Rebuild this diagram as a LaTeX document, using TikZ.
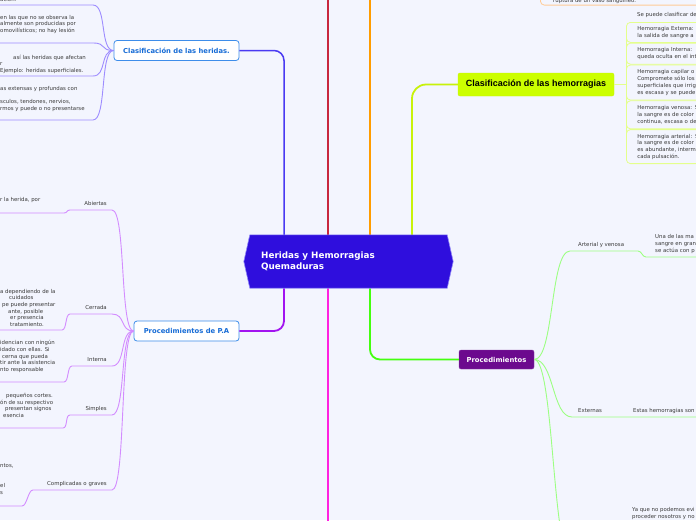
\documentclass[tikz,border=0pt]{standalone}
\usepackage{fontspec}
\setmainfont{DejaVu Sans}
\newfontfamily\arialfont{Liberation Sans}
\usetikzlibrary{positioning}
\definecolor{bg}{HTML}{F3F5FE}
\definecolor{ink}{HTML}{3A3A3A}
\definecolor{corefill}{HTML}{2F0EDD}
\definecolor{cblue}{HTML}{4A3AF2}
\definecolor{cred}{HTML}{C8283F}
\definecolor{corange}{HTML}{FF9C00}
\definecolor{clime}{HTML}{C8F20A}
\definecolor{cpurple}{HTML}{A214F0}
\definecolor{cmag}{HTML}{FF22E0}
\definecolor{cgreen}{HTML}{44FF10}
\definecolor{lilac}{HTML}{9D8CFF}
\definecolor{pinkish}{HTML}{D38CFF}
\definecolor{mint}{HTML}{9CFF82}
\definecolor{pale}{HTML}{E4FF8C}
\definecolor{peach}{HTML}{FFCB96}
\definecolor{topicblue}{HTML}{3D8DEA}
\definecolor{topictext}{HTML}{176CD6}
\definecolor{hemfill}{HTML}{CCFF00}
\definecolor{procfill}{HTML}{6C0A8E}

\begin{document}
\begin{tikzpicture}[x=1pt,y=-1pt,
    txt/.style={inner sep=0pt, align=left, anchor=base west, text=ink, font=\fontsize{5.4}{6.7}\selectfont},
    lbl/.style={inner sep=0pt, text depth=0pt, text=ink, font=\fontsize{5.4}{6.7}\selectfont},
    topic/.style={draw=topicblue, fill=white, line width=0.8pt, rounded corners=3pt, text=topictext, font=\bfseries\fontsize{6.8}{8}\selectfont, minimum height=20pt},
    hembox/.style={draw=pale, line width=0.8pt, rounded corners=4pt, text width=78pt, inner xsep=11pt, align=left, anchor=north west, text=ink, font=\fontsize{5.4}{6.7}\selectfont},
    main/.style={line width=1.8pt},
    twig/.style={line width=0.9pt},
  ]
  \fill[bg] (0,0) rectangle (696,520);
  \useasboundingbox (0,0) rectangle (696,520);

  \node[minimum width=197pt, minimum height=53pt, inner sep=0pt] (core) at (348.5,261.5) {};
  \node[topic, minimum width=125pt] (heridas) at (176.5,50.5) {Clasificación de las heridas.};
  \node[topic, minimum width=105pt] (pa) at (186.5,331) {Procedimientos de P.A};
  \node[fill=hemfill, draw=clime, rounded corners=2pt, minimum width=156pt, minimum height=23pt, font=\arialfont\bfseries\fontsize{9}{11}\selectfont] (hem) at (536,84.5) {Clasificación de las hemorragias};
  \node[fill=procfill, draw=procfill!80!white, rounded corners=2pt, minimum width=75pt, minimum height=19pt, text=white, font=\bfseries\fontsize{6.8}{8}\selectfont] (proc) at (496.5,359.5) {Procedimientos};

  \coordinate (redend) at (328,-10);
  \coordinate (orangeend) at (370,-10);
  \coordinate (magend) at (328,530);
  \draw[main, cblue, line width=1.5pt, rounded corners=10pt] (heridas.east) -| ([xshift=-64.5pt]core.north);
  \draw[main, cpurple, rounded corners=10pt] (pa.east) -| ([xshift=-64.5pt]core.south);
  \draw[main, clime, rounded corners=14pt] (hem.west) -| ([xshift=63.5pt]core.north);
  \draw[main, cgreen, rounded corners=10pt] (proc.west) -| ([xshift=21.5pt]core.south);
  \draw[main, cred] (core.north -| redend) -- (redend);
  \draw[main, corange] (core.north -| orangeend) -- (orangeend);
  \draw[main, cmag] (core.south -| magend) -- (magend);

  \fill[corefill, draw=cblue!60!white, line width=0.6pt] (core.north west) -- (core.north east) -- ([xshift=6pt]core.east) -- (core.south east) -- (core.south west) -- ([xshift=-6pt]core.west) -- cycle;
  \node[anchor=west, align=left, inner sep=0pt, text=white, font=\bfseries\fontsize{8.8}{10.6}\selectfont] (title) at (261,261.5) {Heridas y Hemorragias\\Quemaduras};

  \coordinate (h1) at (93,5);
  \coordinate (h2) at (93,43);
  \coordinate (h3) at (93,76);
  \coordinate (h4) at (93,120);
  \draw[twig, lilac] (heridas.west) .. controls +(-14,0) and +(14,0) .. (h1) -- +(-100,0);
  \draw[twig, lilac] (heridas.west) .. controls +(-14,0) and +(14,0) .. (h2) -- +(-100,0);
  \draw[twig, lilac] (heridas.west) .. controls +(-14,0) and +(14,0) .. (h3) -- +(-100,0);
  \draw[twig, lilac] (heridas.west) .. controls +(-14,0) and +(14,0) .. (h4) -- +(-100,0);
  \node[txt] (h1txt) at (0,1.5) {ación.};
  \node[txt] (h2txt) at (0,32.5) {en las que no se observa la\\almente son producidas por\\omovilísticos; no hay lesión};
  \node[txt] (h3txt) at (0,72.5) {\hspace*{13pt}así las heridas que afectan\\r\\Ejemplo: heridas superficiales.};
  \node[txt] (h4txt) at (0,110.5) {as extensas y profundas con\\[6.7pt]sculos, tendones, nervios,\\rmos y puede o no presentarse};

  \coordinate (p1) at (112,210);
  \coordinate (p2) at (112,314);
  \coordinate (p3) at (112,366);
  \coordinate (p4) at (112,415);
  \coordinate (p5) at (112,490);
  \coordinate (q1) at (70,210);
  \coordinate (q2) at (70,314);
  \coordinate (q3) at (72,366);
  \coordinate (q4) at (70,415);
  \coordinate (q5) at (33,490);
  \coordinate (r1) at (64,213);
  \coordinate (r2) at (62,330);
  \coordinate (r3) at (64,382);
  \coordinate (r4) at (63,428);
  \coordinate (r5) at (22,506);
  \node[lbl, above left=4.5pt and 5pt of p1] (abiertas) {Abiertas};
  \node[lbl, above left=4.5pt and 5pt of p2] (cerrada) {Cerrada};
  \node[lbl, above left=4.5pt and 5pt of p3] (interna) {Interna};
  \node[lbl, above left=4.5pt and 5pt of p4] (simples) {Simples};
  \node[lbl, above left=4.5pt and 5pt of p5] (graves) {Complicadas o graves};
  \draw[twig, pinkish] (pa.west) .. controls +(-14,0) and +(14,0) .. (p1) -- (q1) .. controls +(-4,0) and +(4,0) .. (r1) -- +(-80,0);
  \draw[twig, pinkish] (pa.west) .. controls +(-14,0) and +(14,0) .. (p2) -- (q2) .. controls +(-5,0) and +(5,0) .. (r2) -- +(-80,0);
  \draw[twig, pinkish] (pa.west) .. controls +(-14,0) and +(14,0) .. (p3) -- (q3) .. controls +(-5,0) and +(5,0) .. (r3) -- +(-80,0);
  \draw[twig, pinkish] (pa.west) .. controls +(-14,0) and +(14,0) .. (p4) -- (q4) .. controls +(-5,0) and +(5,0) .. (r4) -- +(-80,0);
  \draw[twig, pinkish] (pa.west) .. controls +(-14,0) and +(14,0) .. (p5) -- (q5) .. controls +(-5,0) and +(5,0) .. (r5) -- +(-80,0);
  \node[txt] (a1txt) at (0,201.5) {r la herida, por};
  \node[txt] (c1txt) at (0,326.5) {a dependiendo de la\\\hspace*{9pt}cuidados\\\hspace*{2pt}pe puede presentar\\\hspace*{8pt}ante, posible\\\hspace*{10pt}er presencia\\\hspace*{10pt}tratamiento.};
  \node[txt] (i1txt) at (0,371.5) {idencian con ningún\\idado con ellas. Si\\\hspace*{2pt}cerna que pueda\\tir ante la asistencia\\nto responsable};
  \node[txt] (s1txt) at (0,417.5) {\hspace*{6pt}pequeños cortes.\\ón de su respectivo\\\hspace*{5pt}presentan signos\\\hspace*{3pt}esencia};
  \node[txt] (g1txt) at (0,494.5) {ntos,\\[13.4pt]el\\s};

  \node[txt] (b0) at (637,16.5) {Se puede clasificar de};
  \node[hembox, minimum height=20pt] (b1) at (626,22) {Hemorragia Externa:\\la salida de sangre a};
  \node[hembox, minimum height=21pt, below=0pt of b1] (b2) {Hemorragia Interna:\\queda oculta en el int};
  \node[hembox, minimum height=35pt, below=0pt of b2] (b3) {Hemorragia capilar o\\Compromete sólo los\\superficiales que irrig\\es escasa y se puede};
  \node[hembox, minimum height=28pt, below=0pt of b3] (b4) {Hemorragia venosa: S\\la sangre es de color\\continua, escasa o de};
  \node[hembox, minimum height=34pt, below=0pt of b4] (b5) {Hemorragia arterial: S\\la sangre es de color\\es abundante, interm\\cada pulsación.};
  \draw[twig, pale] (hem.east) -| (b1.west) (hem.east) -| (b2.west) (hem.east) -| (b3.west) (hem.east) -| (b4.west) (hem.east) -| (b5.west);

  \node[draw=peach, line width=0.8pt, rounded corners=4pt, minimum width=170pt, minimum height=30pt, anchor=south west] (rupt) at (540,5.5) {};
  \node[txt] (rupttxt) at (553,2.5) {ruptura de un vaso sanguíneo.};

  \coordinate (ar1) at (570,251);
  \coordinate (ar2) at (638,251);
  \coordinate (ar3) at (646,257);
  \coordinate (ex1) at (572,417);
  \coordinate (ya1) at (572,560);
  \node[lbl, above right=4.5pt and 8pt of ar1] (arterial) {Arterial y venosa};
  \node[lbl, above right=4.5pt and 6pt of ex1] (externas) {Externas};
  \draw[twig, mint] (proc.east) .. controls +(20,0) and +(-20,0) .. (ar1) -- (ar2) .. controls +(4,0) and +(-4,0) .. (ar3) -- +(60,0);
  \draw[twig, mint] (proc.east) .. controls +(20,0) and +(-20,0) .. (ex1) -- +(130,0);
  \draw[twig, mint] (proc.east) .. controls +(20,0) and +(-20,0) .. (ya1);
  \node[txt] (arttxt) at (655,252) {Una de las ma\\sangre en gran\\se actúa con p};
  \node[txt] (extxt) at (633,412.5) {Estas hemorragias son};
  \node[txt] (yatxt) at (632,518.5) {Ya que no podemos evi\\proceder nosotros y no};
\end{tikzpicture}
\end{document}
